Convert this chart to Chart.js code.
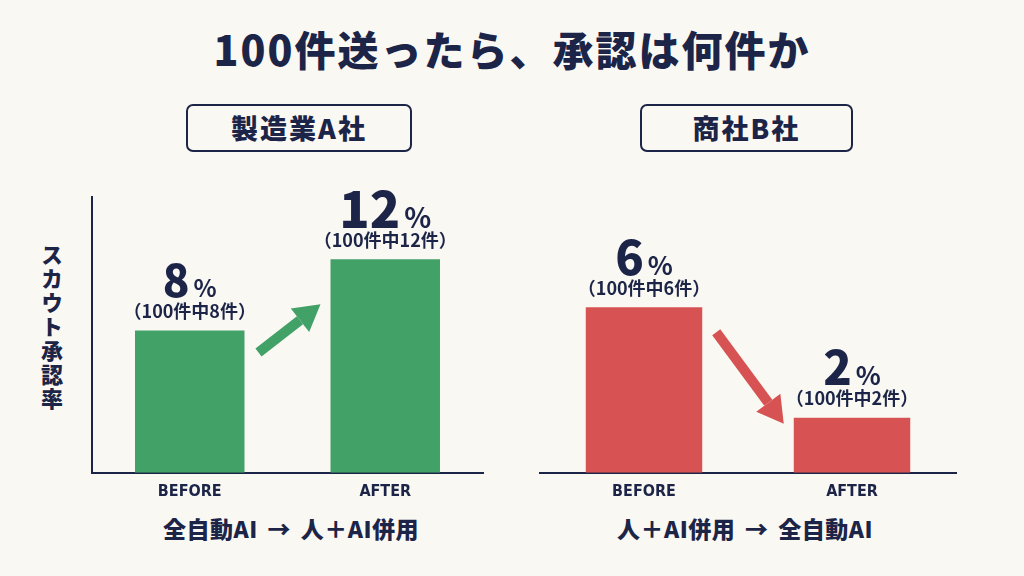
<!DOCTYPE html>
<html lang="ja">
<head>
<meta charset="utf-8">
<script src="https://cdn.jsdelivr.net/npm/chart.js@4.4.1/dist/chart.umd.min.js"></script>
<style>
  html, body { margin: 0; padding: 0; }
  body {
    width: 1024px; height: 576px; overflow: hidden; position: relative;
    background: #faf8f3; color: #1c2547;
    font-family: "Noto Sans CJK JP", "Noto Sans", sans-serif;
  }
  .title {
    position: absolute; left: 0; top: 20px; width: 1024px; text-align: center;
    font-size: 41px; font-weight: 900; letter-spacing: 2px; line-height: 56px;
  }
  .box {
    position: absolute; top: 104px; height: 44px; border: 2px solid #1c2547;
    border-radius: 7px; text-align: center; font-size: 27px; font-weight: 900;
    line-height: 44px; letter-spacing: 2px;
  }
  .ytitle {
    position: absolute; left: 40px; top: 244px; writing-mode: vertical-rl;
    font-size: 22px; font-weight: 900; line-height: 24px; letter-spacing: 2px;
  }
  .caption {
    position: absolute; top: 511px; width: 400px; text-align: center;
    font-size: 23px; font-weight: 900; line-height: 34px; letter-spacing: 0.5px;
    word-spacing: 4px; white-space: pre;
  }
  .chart { position: absolute; top: 100px; width: 512px; height: 410px; }
</style>
</head>
<body>
<div class="title">100件送ったら、承認は何件か</div>
<div class="box" style="left:186px;width:222px">製造業A社</div>
<div class="box" style="left:640px;width:209px">商社B社</div>
<div class="ytitle">スカウト承認率</div>
<div class="caption" style="left:91px">全自動AI → 人＋AI併用</div>
<div class="caption" style="left:545px">人＋AI併用 → 全自動AI</div>
<div class="chart" style="left:0"><canvas id="chartA"></canvas></div>
<div class="chart" style="left:512px"><canvas id="chartB"></canvas></div>
<script>
// data
const categories = ["BEFORE", "AFTER"];
const companyA = [8, 12];   // 承認率 %
const companyB = [6, 2];
const sentCount = 100;

const navy = "#1c2547";
const green = "#42a167";
const red = "#d75353";

// value labels above bars + arrow between bars
const labelPlugin = {
  id: "barLabels",
  afterDatasetsDraw(chart, args, opts) {
    const ctx = chart.ctx;
    const meta = chart.getDatasetMeta(0);
    const values = chart.data.datasets[0].data;
    ctx.save();
    ctx.fillStyle = navy;
    meta.data.forEach((bar, i) => {
      const v = values[i];
      const big = opts.sizes[i];
      ctx.font = `900 ${big}px "Noto Sans CJK JP"`;
      const numW = ctx.measureText(String(v)).width;
      ctx.font = `700 ${Math.round(big * 0.55)}px "Noto Sans CJK JP"`;
      const pctW = ctx.measureText("%").width;
      const start = bar.x - (numW + 4 + pctW) / 2;
      const cy = bar.y - 50;
      ctx.textBaseline = "alphabetic";
      ctx.textAlign = "left";
      ctx.font = `900 ${big}px "Noto Sans CJK JP"`;
      ctx.fillText(String(v), start, cy + big * 0.37);
      ctx.font = `700 ${Math.round(big * 0.55)}px "Noto Sans CJK JP"`;
      ctx.fillText("%", start + numW + 4, cy + big * 0.37);
      ctx.font = `700 18px "Noto Sans CJK JP"`;
      ctx.textAlign = "center";
      ctx.textBaseline = "middle";
      ctx.fillText(`（${sentCount}件中${v}件）`, bar.x, bar.y - 19);
    });

    // arrow from first bar to second
    const a = meta.data[0], b = meta.data[1];
    const up = values[1] > values[0];
    const x1 = a.x + a.width / 2 + 14;
    const x2 = b.x - b.width / 2 - 10;
    let y1, y2;
    if (up) { y1 = a.y + 22; y2 = b.y + 45; }
    else { y1 = a.y + 25; y2 = b.y + 6; }
    const ang = Math.atan2(y2 - y1, x2 - x1);
    const head = 26, hw = 15;
    const bx = x2 - head * Math.cos(ang), by = y2 - head * Math.sin(ang);
    ctx.strokeStyle = opts.arrowColor;
    ctx.fillStyle = opts.arrowColor;
    ctx.lineWidth = 10;
    ctx.beginPath();
    ctx.moveTo(x1, y1);
    ctx.lineTo(bx, by);
    ctx.stroke();
    ctx.beginPath();
    ctx.moveTo(x2, y2);
    ctx.lineTo(bx + hw * Math.sin(ang), by - hw * Math.cos(ang));
    ctx.lineTo(bx - hw * Math.sin(ang), by + hw * Math.cos(ang));
    ctx.closePath();
    ctx.fill();
    ctx.restore();
  }
};

function makeChart(id, values, color, yMax, showY, pad, sizes) {
  return new Chart(document.getElementById(id), {
    type: "bar",
    data: {
      labels: categories,
      datasets: [{
        data: values,
        backgroundColor: color,
        barPercentage: 0.56,
        categoryPercentage: 1
      }]
    },
    options: {
      responsive: true,
      maintainAspectRatio: false,
      animation: false,
      layout: { padding: pad },
      plugins: {
        legend: { display: false },
        tooltip: { enabled: false },
        barLabels: { sizes: sizes, arrowColor: color }
      },
      scales: {
        x: {
          grid: { display: false, drawTicks: false },
          border: { display: true, color: navy, width: 2 },
          ticks: {
            color: navy, padding: 9,
            font: { family: '"DejaVu Sans Condensed", "Roboto", sans-serif', size: 16, weight: "bold" }
          }
        },
        y: {
          display: showY,
          min: 0, max: yMax,
          grid: { display: false, drawTicks: false },
          border: { display: showY, color: navy, width: 2 },
          ticks: { display: false }
        }
      }
    },
    plugins: [labelPlugin]
  });
}

makeChart("chartA", companyA, green, 15.5, true,
  { left: 92, right: 29, top: 97, bottom: 0 }, [44, 50]);
makeChart("chartB", companyB, red, 10, false,
  { left: 28, right: 68, top: 97, bottom: 0 }, [47, 47]);
</script>
</body>
</html>
